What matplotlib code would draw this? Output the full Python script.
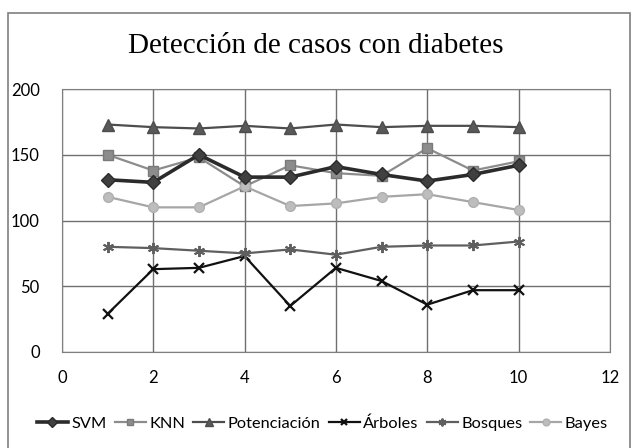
import matplotlib.pyplot as plt
from matplotlib.patches import Rectangle

plt.rcParams['font.family'] = ['Lato', 'DejaVu Sans']

x = [1, 2, 3, 4, 5, 6, 7, 8, 9, 10]
svm = [131, 129, 150, 133, 133, 141, 135, 130, 135, 142]
knn = [150, 138, 148, 126, 142, 136, 134, 155, 138, 145]
potenciacion = [173, 171, 170, 172, 170, 173, 171, 172, 172, 171]
arboles = [29, 63, 64, 73, 35, 64, 54, 36, 47, 47]
bosques = [80, 79, 77, 75, 78, 74, 80, 81, 81, 84]
bayes = [118, 110, 110, 126, 111, 113, 118, 120, 114, 108]

fig = plt.figure(figsize=(6.32, 4.48), dpi=100)
ax = fig.add_axes([0.098, 0.2143, 0.867, 0.587])

# outer chart frame
fig.patches.append(Rectangle((8 / 632, -0.01), 622 / 632, 1 - 13 / 448 + 0.01,
                             transform=fig.transFigure, fill=False,
                             edgecolor='#7f7f7f', linewidth=1.2))

ax.plot(x, svm, color='#2b2b2b', lw=2.6, marker='D', ms=7, mfc='#404040', mec='#2b2b2b', label='SVM', zorder=5)
ax.plot(x, knn, color='#8c8c8c', lw=1.6, marker='s', ms=7, mfc='#8c8c8c', mec='#7a7a7a', label='KNN', zorder=4)
ax.plot(x, potenciacion, color='#4d4d4d', lw=1.6, marker='^', ms=8, mfc='#595959', mec='#4d4d4d', label='Potenciación', zorder=4)
ax.plot(x, arboles, color='#111111', lw=1.6, marker='x', ms=7, mew=1.6, label='Árboles', zorder=4)
ax.plot(x, bosques, color='#5f5f5f', lw=1.6, marker=(6, 2, 0), ms=8, mew=1.4, label='Bosques', zorder=4)
ax.plot(x, bayes, color='#a6a6a6', lw=1.6, marker='o', ms=7, mfc='#bdbdbd', mec='#b0b0b0', label='Bayes', zorder=4)

ax.set_xlim(0, 12)
ax.set_ylim(0, 200)
ax.set_xticks(range(0, 13, 2))
ax.set_yticks(range(0, 201, 50))
ax.grid(True, color='#707070', linewidth=1)
ax.set_axisbelow(True)
for s in ax.spines.values():
    s.set_color('#7f7f7f')
ax.tick_params(length=0, labelsize=12)
ax.tick_params(axis='y', pad=16)
ax.tick_params(axis='x', pad=13)

fig.text(0.5, 0.898, 'Detección de casos con diabetes', ha='center', va='center',
         family='Liberation Serif', fontsize=21)

fig.legend(loc='center', bbox_to_anchor=(0.51, 0.054), ncol=6, frameon=False,
           fontsize=11.8, markerscale=0.7, handlelength=1.9, handletextpad=0.2,
           columnspacing=0.5)

fig.savefig('out.png', dpi=100)
